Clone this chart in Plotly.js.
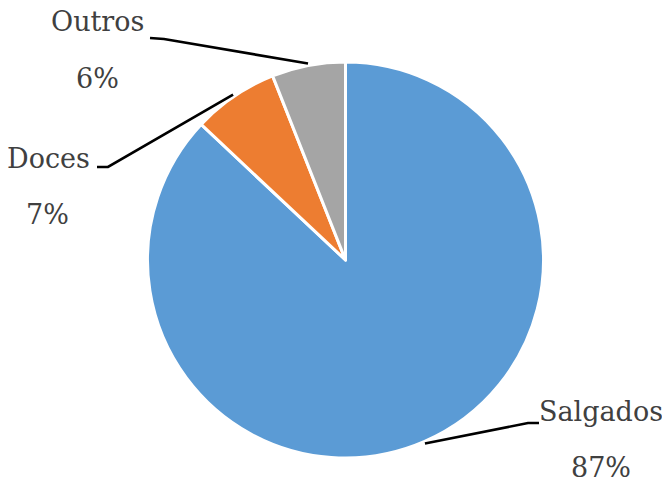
<!DOCTYPE html>
<html>
<head>
<meta charset="utf-8">
<script src="https://cdn.plot.ly/plotly-3.0.1.min.js"></script>
<style>
  html, body { margin: 0; padding: 0; background: #ffffff; }
  #chart { width: 662px; height: 484px; }
</style>
</head>
<body>
<div id="chart"></div>
<script>
// Categories and their shares (%)
const categories = ['Salgados', 'Doces', 'Outros'];
const shares = [87, 7, 6];
const percentLabels = ['87%', '7%', '6%'];
const sliceColors = ['#5B9BD5', '#ED7D31', '#A5A5A5'];

const W = 662, H = 484;
// pie placement in pixels
const cx = 345.5, cy = 260, R = 198;
const labelFont = { family: 'DejaVu Serif', size: 27, color: '#404040' };

// label placement (pixels): name position, percent position, elbow point, elbow end
const labelLayout = [
  { name: [601, 411], pct: [601, 467], elbow: [528, 423], end: [539, 423] },
  { name: [48, 158],  pct: [47, 214],  elbow: [108, 167], end: [97, 167] },
  { name: [98, 22],   pct: [98, 78],   elbow: [164, 39],  end: [150, 38] }
];

const px = x => x / W;
const py = y => 1 - y / H;

const total = shares.reduce((a, b) => a + b, 0);
const shapes = [];
const annotations = [];
let cum = 0;
shares.forEach((v, i) => {
  const mid = (cum + v / 2) / total;
  cum += v;
  const ang = mid * 2 * Math.PI; // clockwise from 12 o'clock
  const rr = R + 2;
  const ex = cx + rr * Math.sin(ang);
  const ey = cy - rr * Math.cos(ang);
  const L = labelLayout[i];
  shapes.push({
    type: 'path', xref: 'paper', yref: 'paper',
    path: `M ${px(ex)},${py(ey)} L ${px(L.elbow[0])},${py(L.elbow[1])} L ${px(L.end[0])},${py(L.end[1])}`,
    line: { color: '#000000', width: 2.6 }
  });
  annotations.push({
    xref: 'paper', yref: 'paper', x: px(L.name[0]), y: py(L.name[1]),
    xanchor: 'center', yanchor: 'middle', showarrow: false,
    text: categories[i], font: labelFont
  });
  annotations.push({
    xref: 'paper', yref: 'paper', x: px(L.pct[0]), y: py(L.pct[1]),
    xanchor: 'center', yanchor: 'middle', showarrow: false,
    text: percentLabels[i], font: labelFont
  });
});

const trace = {
  type: 'pie',
  labels: categories,
  values: shares,
  sort: false,
  direction: 'clockwise',
  rotation: 0,
  textinfo: 'none',
  hoverinfo: 'label+percent',
  marker: { colors: sliceColors, line: { color: '#ffffff', width: 3 } },
  domain: { x: [px(cx - R), px(cx + R)], y: [py(cy + R), py(cy - R)] }
};

const layout = {
  width: W, height: H,
  margin: { l: 0, r: 0, t: 0, b: 0 },
  paper_bgcolor: '#ffffff',
  showlegend: false,
  shapes: shapes,
  annotations: annotations
};

Plotly.newPlot('chart', [trace], layout, { displayModeBar: false, staticPlot: true });
</script>
</body>
</html>
